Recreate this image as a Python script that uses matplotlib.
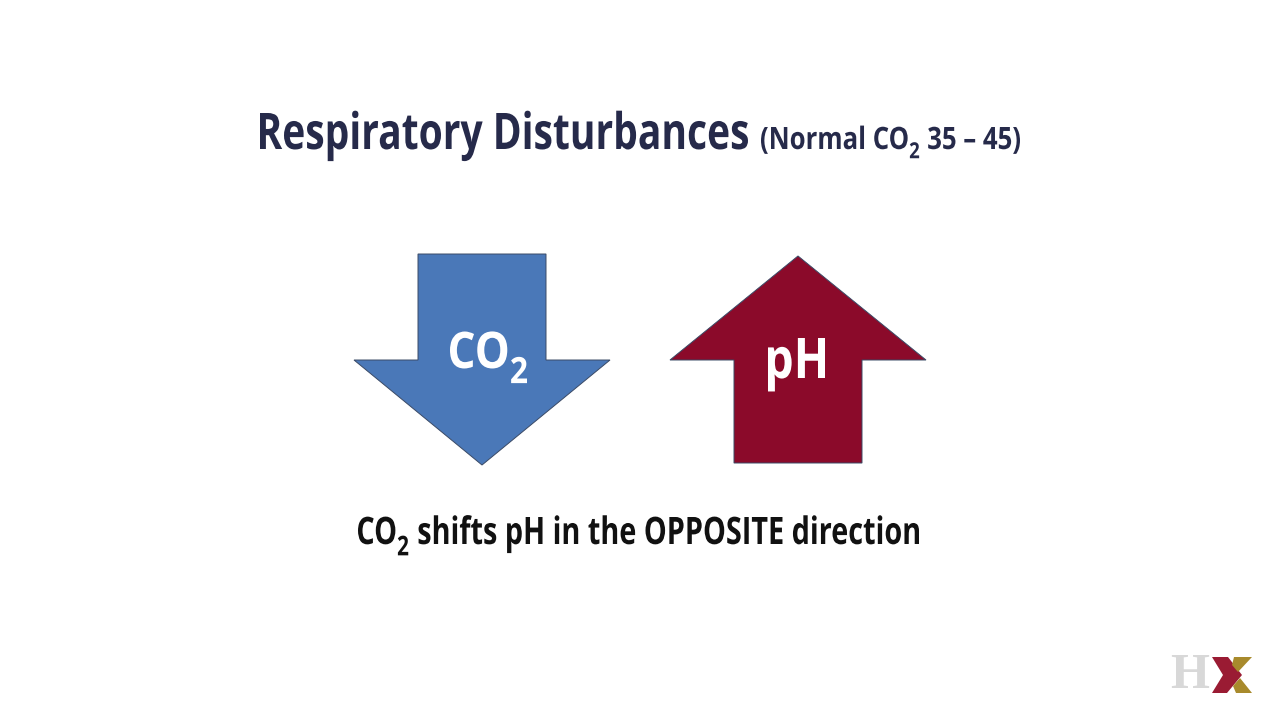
import matplotlib
matplotlib.use('Agg')
import matplotlib.pyplot as plt
from matplotlib.font_manager import FontProperties
from matplotlib.patches import Polygon, PathPatch
from matplotlib.path import Path
from matplotlib.textpath import TextPath, text_to_path
from matplotlib.transforms import Affine2D

# slide content: runs of (text, is_subscript)
title = [('Respiratory Disturbances', False)]
subtitle = [('(Normal CO', False), ('2', True), (' 35 – 45)', False)]
caption = [('CO', False), ('2', True), (' shifts pH in the OPPOSITE direction', False)]
label_co2 = [('CO', False), ('2', True)]
label_ph = [('pH', False)]
arrow_colors = ['#4a78b8', '#8b0a2a']
title_color = '#262a4a'

# arrow outlines in pixel coordinates (y grows downward)
down_arrow = [(418, 254), (546, 254), (546, 360), (610, 360), (482, 465),
              (354, 360), (418, 360)]
up_arrow = [(798, 256), (926, 360), (862, 360), (862, 463), (734, 463),
            (734, 360), (670, 360)]

font = FontProperties(family='Open Sans', weight='bold')
cap_unit = TextPath((0, 0), 'H', size=100, prop=font).get_extents().height
sub_scale = 0.72
sub_drop = 0.42 * cap_unit


def runs_path(runs):
    paths = []
    x = 0
    for s, sub in runs:
        size = 100 * sub_scale if sub else 100
        p = TextPath((0, 0), s, size=size, prop=font)
        dy = -sub_drop if sub else 0
        paths.append(Affine2D().translate(x, dy).transform_path(p))
        w, _, _ = text_to_path.get_text_width_height_descent(s, font.copy(), ismath=False)
        # width comes back at the font's own size, bring it to this run's size
        x += w * size / font.get_size_in_points()
        if sub:
            x += 3
    return Path.make_compound_path(*paths)


def fitted_text(ax, runs, x0, x1, baseline, cap, color):
    # text drawn as a path, squeezed to the condensed width of the slide font
    path = runs_path(runs)
    ext = path.get_extents()
    sy = cap / cap_unit
    sx = (x1 - x0) / ext.width
    tr = Affine2D().translate(-ext.x0, 0).scale(sx, -sy).translate(x0, baseline)
    ax.add_patch(PathPatch(tr.transform_path(path), facecolor=color, edgecolor='none'))


fig = plt.figure(figsize=(12.8, 7.2), dpi=100)
ax = fig.add_axes([0, 0, 1, 1])
ax.set_xlim(0, 1280)
ax.set_ylim(720, 0)
ax.axis('off')

for pts, col in zip([down_arrow, up_arrow], arrow_colors):
    ax.add_patch(Polygon(pts, closed=True, facecolor=col, edgecolor='#3a4a66', lw=0.7))

fitted_text(ax, label_co2, 450, 527, 368, 36, 'white')
fitted_text(ax, label_ph, 768, 825, 378, 40, 'white')

fitted_text(ax, title, 260, 748, 149, 36, title_color)
fitted_text(ax, subtitle, 761, 1020, 149, 22, title_color)

fitted_text(ax, caption, 358, 919, 544, 27, '#111111')

# HX logo
ax.text(1189.5, 676, 'H', color='#d8d8d8', fontsize=36, family='Liberation Serif',
        fontweight='bold', ha='center', va='center')
ax.add_patch(Polygon([(1212, 657), (1228, 657), (1242, 675), (1227, 693), (1212, 693),
                      (1223, 675)], closed=True, facecolor='#9a1b33', edgecolor='none'))
ax.add_patch(Polygon([(1234, 657), (1252, 657), (1238, 672), (1232, 665)], closed=True,
                     facecolor='#a88a2c', edgecolor='none'))
ax.add_patch(Polygon([(1233, 686), (1240, 678), (1252, 693), (1236, 693)], closed=True,
                     facecolor='#a88a2c', edgecolor='none'))

fig.savefig('out.png', dpi=100, facecolor='white')
